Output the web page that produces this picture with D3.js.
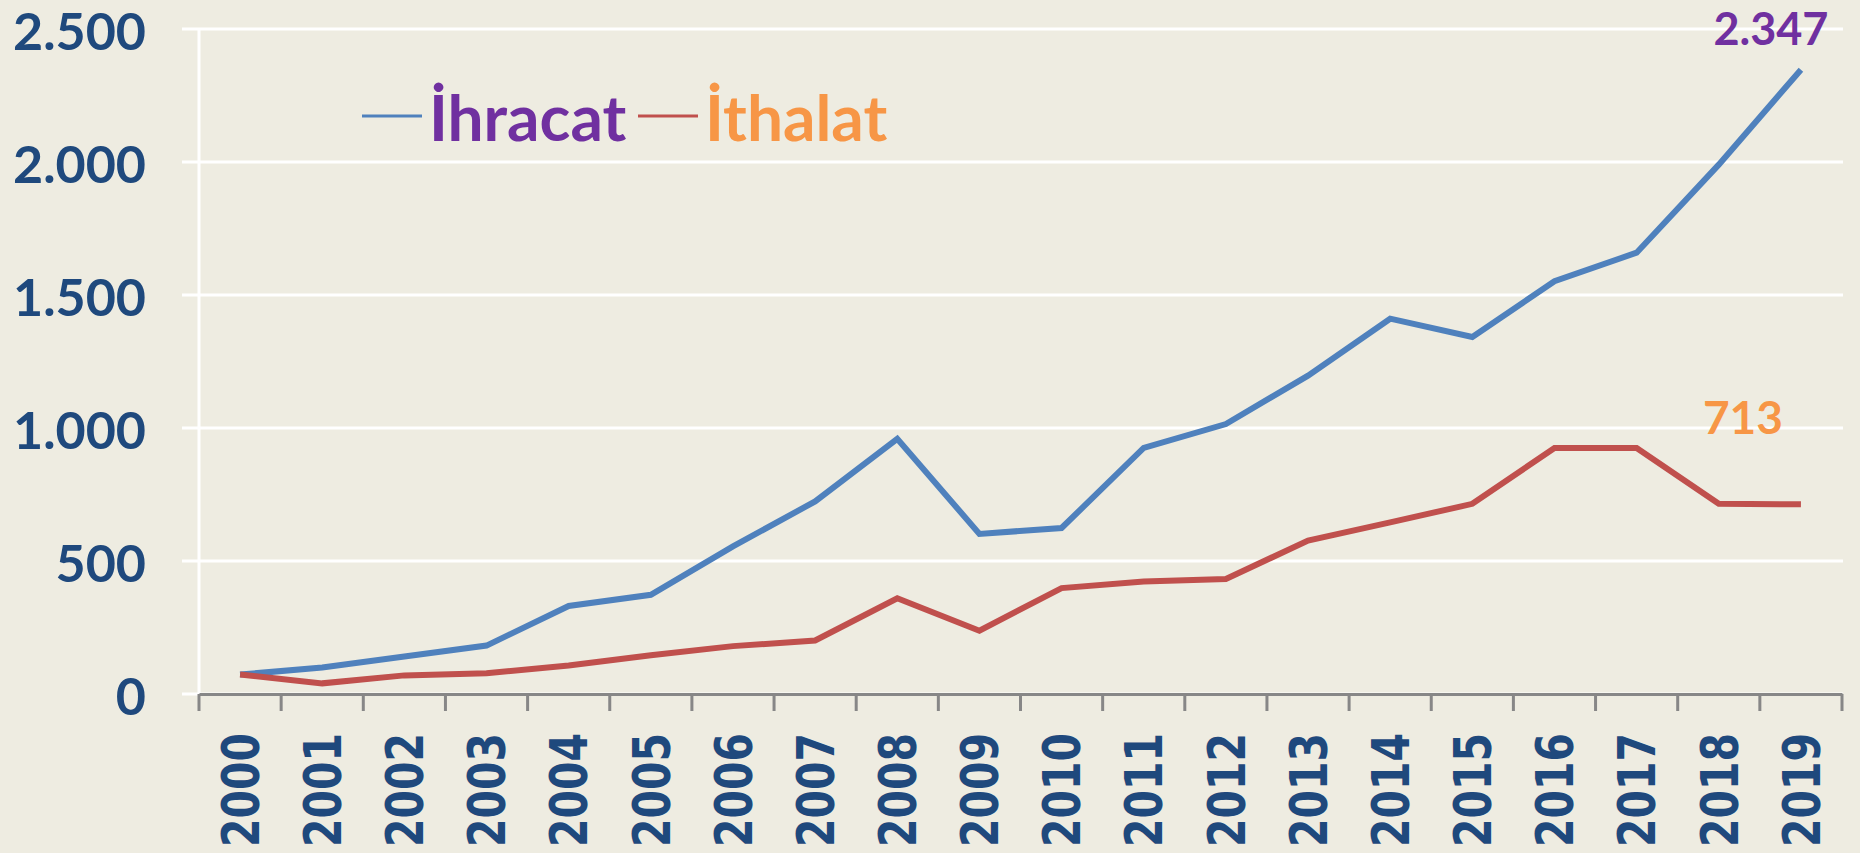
<!DOCTYPE html>
<html lang="tr">
<head>
<meta charset="UTF-8" />
<title>İhracat / İthalat 2000-2019</title>
<style>
  body { margin: 0; background: #EEECE1; }
  svg { display: block; }
</style>
<script src="https://cdn.jsdelivr.net/npm/d3@7"></script>
</head>
<body>
<script>
// data
const years = ["2000","2001","2002","2003","2004","2005","2006","2007","2008","2009",
               "2010","2011","2012","2013","2014","2015","2016","2017","2018","2019"];
const ihracat = [73, 100, 141, 182, 331, 373, 555, 724, 959, 602,
                 624, 925, 1015, 1197, 1411, 1342, 1552, 1659, 1990, 2347];
const ithalat = [73, 40, 70, 78, 107, 146, 180, 201, 360, 238,
                 398, 423, 432, 577, 645, 715, 925, 925, 715, 713];
const yTicks = [0, 500, 1000, 1500, 2000, 2500];
const seriesNames = ["İhracat", "İthalat"];

const W = 1860, H = 853;
const plotL = 199, plotR = 1842, plotT = 29, plotB = 694;

const svg = d3.select("body").append("svg")
  .attr("width", W).attr("height", H);

svg.append("rect").attr("width", W).attr("height", H).attr("fill", "#EEECE1");

const x = d3.scaleBand().domain(years).range([plotL, plotR]);
const y = d3.scaleLinear().domain([0, 2500]).range([plotB, plotT]);
const fmt = d => d3.format(",")(d).replace(/,/g, ".");

// gridlines
svg.append("g")
  .selectAll("line").data(yTicks).join("line")
  .attr("x1", plotL - 17).attr("x2", plotR + 1)
  .attr("y1", d => y(d)).attr("y2", d => y(d))
  .attr("stroke", "#fff").attr("stroke-width", 3);

svg.append("line")
  .attr("x1", plotL).attr("x2", plotL).attr("y1", plotT).attr("y2", plotB)
  .attr("stroke", "#fff").attr("stroke-width", 3);

// y labels
svg.append("g")
  .selectAll("text").data(yTicks).join("text")
  .attr("x", 146).attr("y", d => y(d) + 21)
  .attr("text-anchor", "end")
  .attr("font-family", "Lato, 'Open Sans', sans-serif")
  .attr("font-weight", 700).attr("font-size", 52)
  .attr("fill", "#1F497D")
  .text(fmt);

// x axis
const xAxis = d3.axisBottom(x).tickSize(0).tickFormat("");
const gx = svg.append("g").attr("transform", `translate(0,${plotB})`).call(xAxis);
gx.select(".domain").attr("stroke", "#878787").attr("stroke-width", 3);

const edges = years.map(d => x(d)).concat([plotR]);
svg.append("g")
  .selectAll("line").data(edges).join("line")
  .attr("x1", d => d).attr("x2", d => d)
  .attr("y1", plotB).attr("y2", plotB + 17)
  .attr("stroke", "#878787").attr("stroke-width", 3);

svg.append("g")
  .selectAll("text").data(years).join("text")
  .attr("transform", d => `translate(${x(d) + x.bandwidth() / 2},733) rotate(-90)`)
  .attr("dy", "0.36em")
  .attr("text-anchor", "end")
  .attr("font-family", "'DejaVu Sans', Verdana, sans-serif")
  .attr("font-weight", 700).attr("font-size", 52)
  .attr("textLength", 114).attr("lengthAdjust", "spacingAndGlyphs")
  .attr("fill", "#1F497D")
  .text(d => d);

// lines
const line = d3.line()
  .x((d, i) => x(years[i]) + x.bandwidth() / 2)
  .y(d => y(d));

svg.append("path").datum(ihracat)
  .attr("d", line).attr("fill", "none")
  .attr("stroke", "#4F81BD").attr("stroke-width", 6);

svg.append("path").datum(ithalat)
  .attr("d", line).attr("fill", "none")
  .attr("stroke", "#C0504D").attr("stroke-width", 6);

// end labels
const lastX = x(years[years.length - 1]) + x.bandwidth() / 2;
svg.append("text")
  .attr("x", lastX - 30).attr("y", y(ihracat[ihracat.length - 1]) - 25)
  .attr("text-anchor", "middle")
  .attr("font-family", "Lato, sans-serif").attr("font-weight", 700).attr("font-size", 45)
  .attr("fill", "#7030A0")
  .text(fmt(ihracat[ihracat.length - 1]));

svg.append("text")
  .attr("x", lastX - 58).attr("y", y(ithalat[ithalat.length - 1]) - 70)
  .attr("text-anchor", "middle")
  .attr("font-family", "Lato, sans-serif").attr("font-weight", 700).attr("font-size", 46)
  .attr("fill", "#F79646")
  .text(fmt(ithalat[ithalat.length - 1]));

// legend
const legend = svg.append("g").attr("font-family", "Lato, sans-serif")
  .attr("font-weight", 700).attr("font-size", 64);
const legItems = [
  { name: seriesNames[0], line: "#4F81BD", text: "#7030A0", x0: 362 },
  { name: seriesNames[1], line: "#C0504D", text: "#F79646", x0: 638 }
];
legItems.forEach(d => {
  legend.append("line")
    .attr("x1", d.x0).attr("x2", d.x0 + 60).attr("y1", 116).attr("y2", 116)
    .attr("stroke", d.line).attr("stroke-width", 3);
  legend.append("text")
    .attr("x", d.x0 + 67).attr("y", 141)
    .attr("fill", d.text)
    .text(d.name);
});
</script>
</body>
</html>
